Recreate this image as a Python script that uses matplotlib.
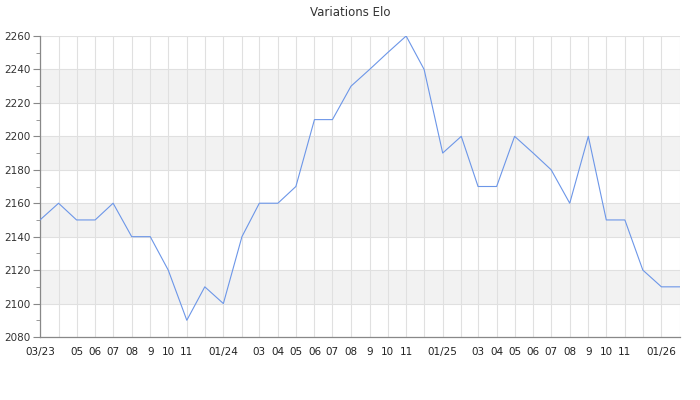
import pandas as pd
import matplotlib
matplotlib.use("Agg")
import matplotlib.pyplot as plt
from matplotlib.ticker import MultipleLocator

# monthly Elo values, 03/2023 -> 02/2026
months = pd.date_range("2023-03-01", "2026-02-01", freq="MS")
elo = [2150, 2160, 2150, 2150, 2160, 2140, 2140, 2120, 2090, 2110,
       2100, 2140, 2160, 2160, 2170, 2210, 2210, 2230, 2240, 2250, 2260, 2240,
       2190, 2200, 2170, 2170, 2200, 2190, 2180, 2160, 2200, 2150, 2150, 2120,
       2110, 2110]
month_labels = ["03/23", "", "05", "06", "07", "08", "9", "10", "11", "",
                "01/24", "", "03", "04", "05", "06", "07", "08", "9", "10", "11", "",
                "01/25", "", "03", "04", "05", "06", "07", "08", "9", "10", "11", "",
                "01/26", ""]
bands = [(2100, 2120), (2140, 2160), (2180, 2200), (2220, 2240)]

fig = plt.figure(figsize=(7, 4), dpi=100)
ax = fig.add_axes([40/700, 1 - 337/400, 640/700, 301/400])

for lo, hi in bands:
    ax.axhspan(lo, hi, color="#f2f2f2", zorder=0, lw=0)

ax.plot(months, elo, color="#6c96e8", lw=0.8, zorder=3)

ax.set_xlim(months[0], months[-1])
ax.set_ylim(2080, 2260)
ax.set_xticks(months)
ax.set_xticklabels(month_labels)
ax.yaxis.set_major_locator(MultipleLocator(20))
ax.yaxis.set_minor_locator(MultipleLocator(10))

ax.grid(True, which="major", color="#e0e0e0", lw=0.8, zorder=1)
ax.set_axisbelow(True)
for s in ["top", "right"]:
    ax.spines[s].set_visible(False)
for s in ["left", "bottom"]:
    ax.spines[s].set_color("#888888")
    ax.spines[s].set_linewidth(0.9)

ax.tick_params(axis="x", length=0, pad=7, labelsize=7.5, labelcolor="#222222")
ax.tick_params(axis="y", which="major", length=5, color="#888888", pad=2,
               labelsize=7.5, labelcolor="#333333")
ax.tick_params(axis="y", which="minor", length=3, color="#888888")

fig.suptitle("Variations Elo", y=1 - 12/400, va="center", fontsize=8.5,
             color="#333333")

fig.savefig("out.png", dpi=100)
